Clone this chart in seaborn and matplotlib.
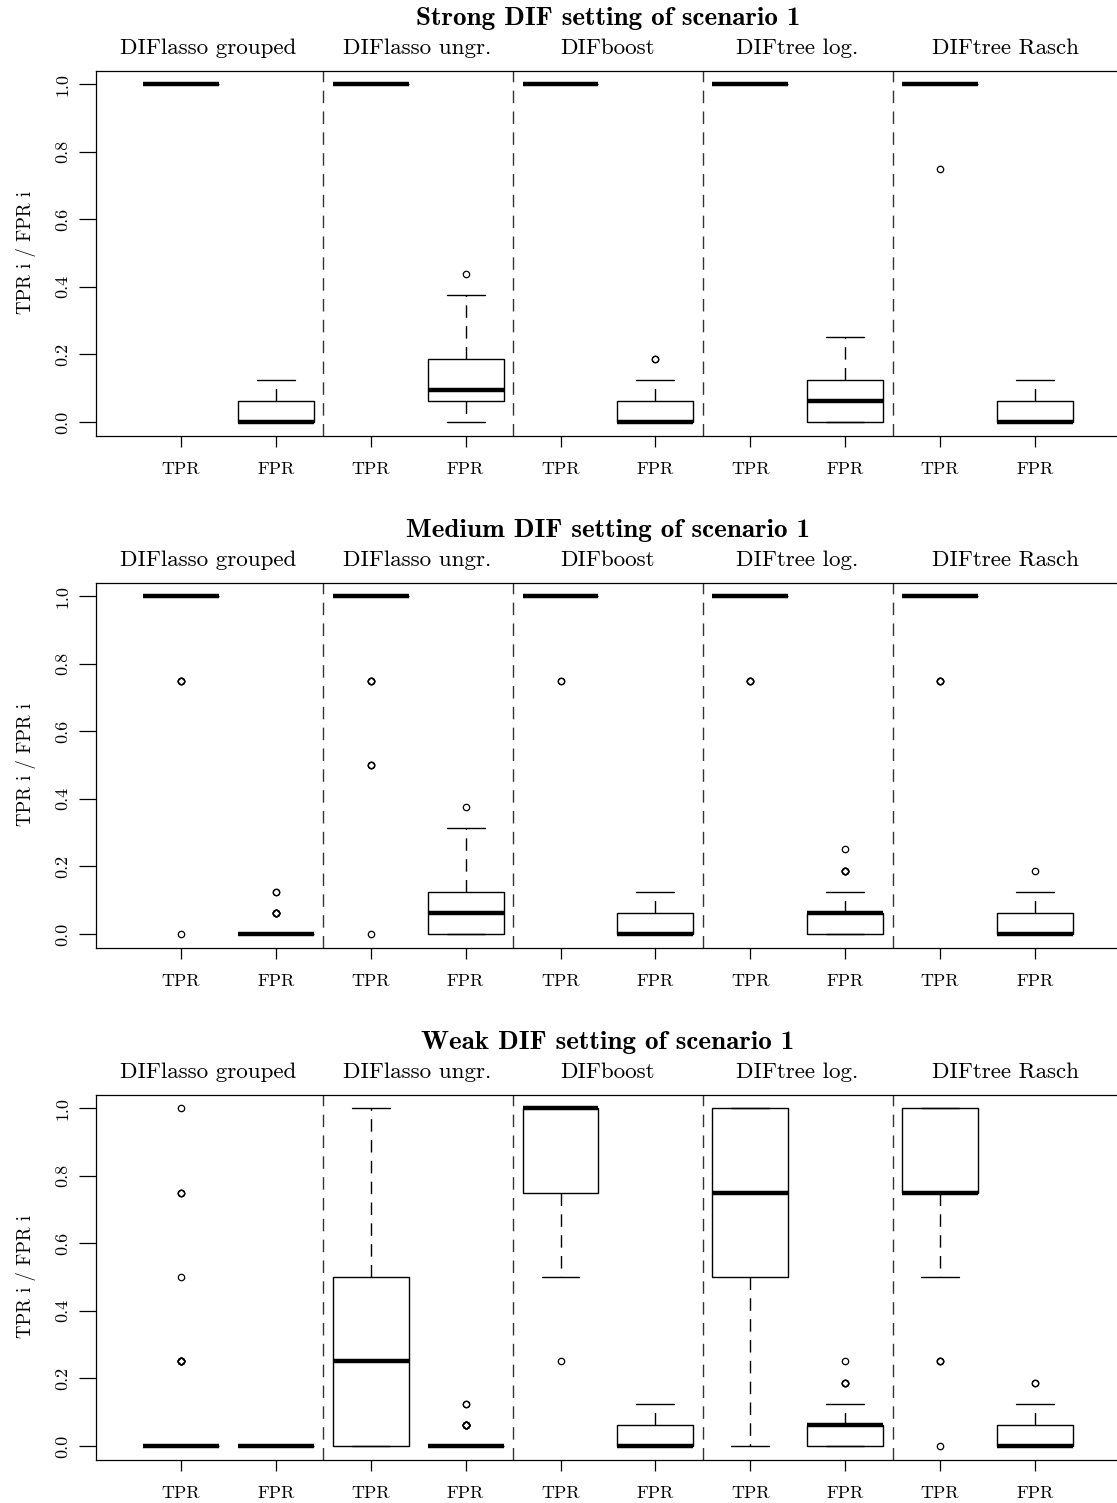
import numpy as np
import pandas as pd
import matplotlib
matplotlib.use("Agg")
import matplotlib.pyplot as plt
import matplotlib.transforms as mtransforms
import seaborn as sns

# ---- data -------------------------------------------------------------
METHODS = ["DIFlasso grouped", "DIFlasso ungr.", "DIFboost", "DIFtree log.", "DIFtree Rasch"]
RATES = ["TPR", "FPR"]
PANEL_TITLES = ["Strong DIF setting of scenario 1",
                "Medium DIF setting of scenario 1",
                "Weak DIF setting of scenario 1"]

# attainable rates: 4 DIF items and 16 non-DIF items
TPR_LEVELS = [0.0, 0.25, 0.5, 0.75, 1.0]
FPR_LEVELS = [0.0, 0.0625, 0.125, 0.1875, 0.25, 0.3125, 0.375, 0.4375]

# number of replications (out of 100) at each rate level, one row per method
STRONG_TPR = [[0, 0, 0, 0, 100], [0, 0, 0, 0, 100], [0, 0, 0, 0, 100],
              [0, 0, 0, 0, 100], [0, 0, 0, 1, 99]]
STRONG_FPR = [[55, 35, 10, 0, 0, 0, 0, 0], [10, 40, 20, 15, 8, 4, 2, 1],
              [55, 33, 10, 2, 0, 0, 0, 0], [30, 25, 30, 10, 5, 0, 0, 0],
              [55, 35, 10, 0, 0, 0, 0, 0]]
MEDIUM_TPR = [[1, 0, 0, 4, 95], [1, 0, 3, 4, 92], [0, 0, 0, 2, 98],
              [0, 0, 0, 4, 96], [0, 0, 0, 4, 96]]
MEDIUM_FPR = [[92, 6, 2, 0, 0, 0, 0, 0], [30, 25, 25, 10, 6, 3, 1, 0],
              [55, 35, 10, 0, 0, 0, 0, 0], [30, 50, 14, 5, 1, 0, 0, 0],
              [55, 35, 9, 1, 0, 0, 0, 0]]
WEAK_TPR = [[88, 7, 1, 3, 1], [30, 25, 25, 12, 8], [0, 1, 8, 30, 61],
            [5, 12, 20, 25, 38], [1, 3, 8, 45, 43]]
WEAK_FPR = [[100, 0, 0, 0, 0, 0, 0, 0], [90, 8, 2, 0, 0, 0, 0, 0],
            [55, 35, 10, 0, 0, 0, 0, 0], [30, 50, 15, 4, 1, 0, 0, 0],
            [55, 35, 8, 2, 0, 0, 0, 0]]

PANELS = [(STRONG_TPR, STRONG_FPR), (MEDIUM_TPR, MEDIUM_FPR), (WEAK_TPR, WEAK_FPR)]

SLOTS = [f"{m}|{r}" for m in METHODS for r in RATES]


def panel_frame(tpr_counts, fpr_counts):
    rows = []
    for m, tc, fc in zip(METHODS, tpr_counts, fpr_counts):
        for v in np.repeat(TPR_LEVELS, tc):
            rows.append((f"{m}|TPR", v))
        for v in np.repeat(FPR_LEVELS, fc):
            rows.append((f"{m}|FPR", v))
    return pd.DataFrame(rows, columns=["slot", "value"])


# ---- style --------------------------------------------------------------
sns.set_theme(style="white")
plt.rcParams.update({
    "font.family": ["cmr10", "DejaVu Serif"],
    "axes.formatter.use_mathtext": True,
    "text.color": "black",
    "axes.labelcolor": "black",
    "axes.edgecolor": "black",
    "axes.linewidth": 0.9,
    "xtick.color": "black",
    "ytick.color": "black",
    "xtick.labelcolor": "black",
    "ytick.labelcolor": "black",
    "xtick.bottom": True,
    "ytick.left": True,
})

W, H, DPI = 1117, 1503, 100
fig = plt.figure(figsize=(W / DPI, H / DPI), dpi=DPI)
fig.patch.set_facecolor("white")

px = 72.0 / DPI          # points per pixel
ax_left = 95.6 / W
ax_width = (1120.3 - 95.6) / W
ax_height = 365.0 / H
ax_tops = [70.5, 582.5, 1094.5]

FS_TICK = 13
FS_LABEL = 13.5
FS_METHOD = 16.6
FS_TITLE = 19.5
method_x = [0.29, 2.49, 4.49, 6.49, 8.69]

for (tpr_c, fpr_c), title, top in zip(PANELS, PANEL_TITLES, ax_tops):
    ax = fig.add_axes([ax_left, 1 - (top + 365.0) / H, ax_width, ax_height])
    df = panel_frame(tpr_c, fpr_c)
    sns.boxplot(
        data=df, x="slot", y="value", order=SLOTS, ax=ax,
        width=0.8, color="white", linecolor="black", linewidth=1.0, whis=1.5,
        boxprops=dict(edgecolor="black", linewidth=1.0),
        medianprops=dict(color="black", linewidth=3.2, solid_capstyle="butt"),
        whiskerprops=dict(color="black", linewidth=1.0, linestyle=(0, (9, 6))),
        capprops=dict(color="black", linewidth=1.0),
        flierprops=dict(marker="o", markersize=4.6, markerfacecolor="none",
                        markeredgecolor="black", markeredgewidth=0.9),
    )
    ax.set_xlim(-0.9, 9.9)
    ax.set_ylim(-0.04, 1.04)

    # dashed separators between methods
    for xs in [1.5, 3.5, 5.5, 7.5]:
        ax.axvline(xs, color="#333333", linewidth=1.0, linestyle=(0, (9, 6)), zorder=1)

    ax.set_xticks(range(len(SLOTS)))
    ax.set_xticklabels([s.split("|")[1] for s in SLOTS], fontsize=FS_TICK, color="black")
    yt = [0.0, 0.2, 0.4, 0.6, 0.8, 1.0]
    ax.set_yticks(yt)
    ax.set_yticklabels([f"{v:.1f}" for v in yt], fontsize=FS_TICK,
                       rotation=90, va="center", color="black")
    ax.tick_params(axis="x", direction="out", length=8, width=0.9, pad=11)
    ax.tick_params(axis="y", direction="out", length=12, width=0.9, pad=6)
    ax.set_xlabel("")
    ax.set_ylabel("TPR i / FPR i", fontsize=FS_LABEL, labelpad=14, color="black")
    for sp in ax.spines.values():
        sp.set_visible(True)
        sp.set_color("black")
        sp.set_linewidth(0.9)

    # method names above each pair of boxes
    trans = mtransforms.blended_transform_factory(ax.transData, ax.transAxes)
    for mx, name in zip(method_x, METHODS):
        ax.annotate(name, xy=(mx, 1.0), xycoords=trans,
                    xytext=(0, 22.5 * px), textcoords="offset points",
                    ha="center", va="center", fontsize=FS_METHOD, color="black")

    ax.annotate(title, xy=(0.5, 1.0), xycoords="axes fraction",
                xytext=(0, 52.5 * px), textcoords="offset points",
                ha="center", va="center", fontsize=FS_TITLE, color="black",
                family=["cmb10", "DejaVu Serif"])

fig.savefig("out.png", dpi=DPI, facecolor="white")
